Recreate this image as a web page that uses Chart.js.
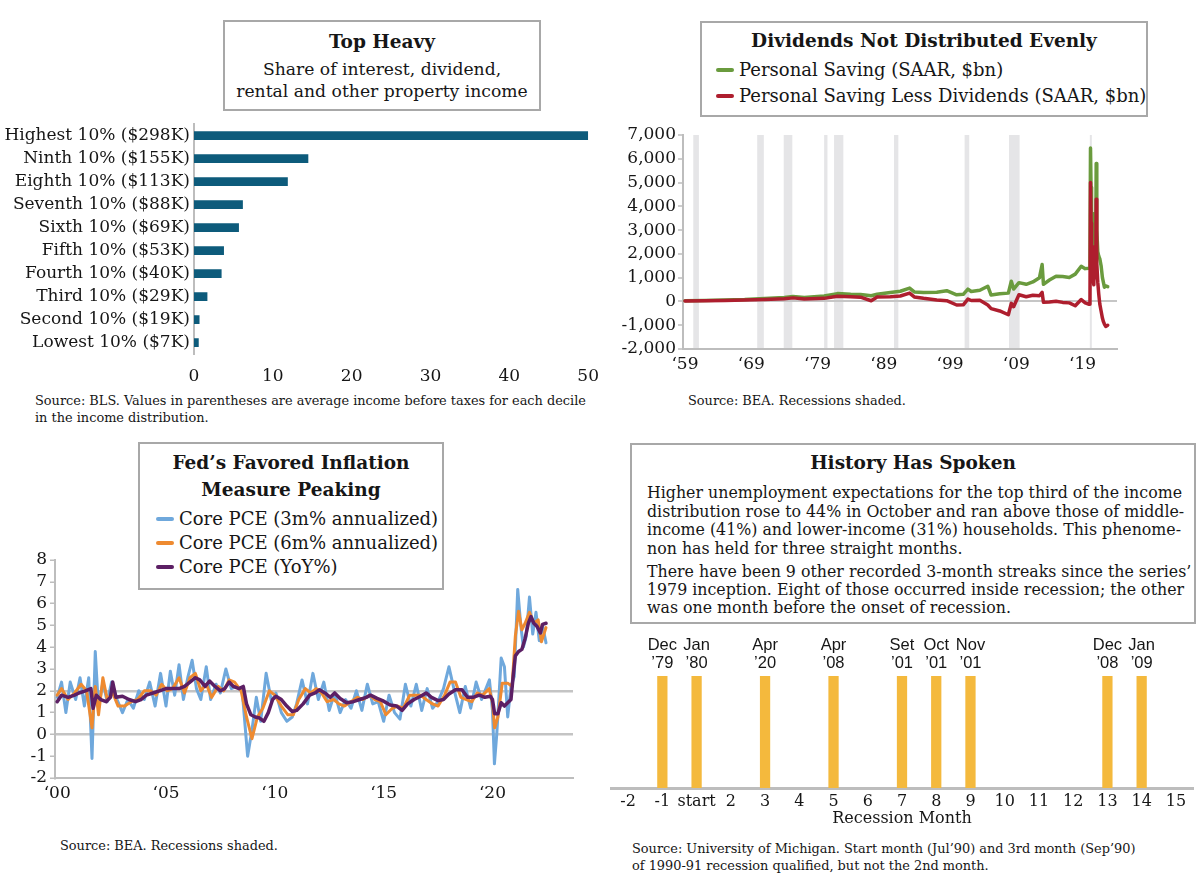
<!DOCTYPE html>
<html>
<head>
<meta charset="utf-8">
<title>Income, saving and inflation</title>
<script src="https://cdn.jsdelivr.net/npm/chart.js@4.4.1/dist/chart.umd.min.js"></script>
<style>
  html, body { margin: 0; padding: 0; }
  body { width: 1200px; height: 885px; position: relative; overflow: hidden; background: #fff; color: #161616; font-family: "DejaVu Serif", serif; }
  canvas { position: absolute; }
  .box { position: absolute; box-sizing: border-box; border: 2px solid #a8a8a8; background: #fff; }
  .box div { position: absolute; white-space: nowrap; }
  .ttl { left: 0; right: 0; text-align: center; font-weight: bold; font-size: 18.5px; line-height: 22px; }
  .sub { left: 0; right: 0; text-align: center; font-size: 17.2px; line-height: 22px; }
  .leg { font-size: 18px; line-height: 22px; }
  .leg i { display: inline-block; width: 18px; height: 4px; border-radius: 2px; vertical-align: middle; margin: 0 5px 3px 0; }
  .para { left: 15px; font-size: 15.8px; line-height: 19px; }
  .src { position: absolute; font-size: 12.9px; line-height: 17px; white-space: nowrap; }
</style>
</head>
<body>

<canvas id="decileChart" width="611" height="280" style="left:0;top:110px"></canvas>
<canvas id="savingChart" width="580" height="265" style="left:620px;top:120px"></canvas>
<canvas id="pceChart" width="600" height="270" style="left:0;top:545px"></canvas>
<canvas id="streakChart" width="600" height="210" style="left:600px;top:625px"></canvas>

<div class="box" style="left:223px;top:20px;width:318px;height:91px">
  <div class="ttl" style="top:9px">Top Heavy</div>
  <div class="sub" style="top:36px">Share of interest, dividend,</div>
  <div class="sub" style="top:58px">rental and other property income</div>
</div>

<div class="box" style="left:700px;top:21px;width:448px;height:96px">
  <div class="ttl" style="top:7px">Dividends Not Distributed Evenly</div>
  <div class="leg" style="top:36px;left:14px"><i style="background:#6a9b3e"></i>Personal Saving (SAAR, $bn)</div>
  <div class="leg" style="top:62px;left:14px"><i style="background:#ae1e2e"></i>Personal Saving Less Dividends (SAAR, $bn)</div>
</div>

<div class="box" style="left:138px;top:442px;width:306px;height:148px">
  <div class="ttl" style="top:8px">Fed’s Favored Inflation</div>
  <div class="ttl" style="top:35px">Measure Peaking</div>
  <div class="leg" style="top:64px;left:16px"><i style="background:#6fa8dc"></i>Core PCE (3m% annualized)</div>
  <div class="leg" style="top:88px;left:16px"><i style="background:#ee8a30"></i>Core PCE (6m% annualized)</div>
  <div class="leg" style="top:112px;left:16px"><i style="background:#5c1f64"></i>Core PCE (YoY%)</div>
</div>

<div class="box" style="left:630px;top:443px;width:566px;height:181px">
  <div class="ttl" style="top:7px">History Has Spoken</div>
  <div class="para" style="top:37.5px">Higher unemployment expectations for the top third of the income</div>
  <div class="para" style="top:56.5px">distribution rose to 44% in October and ran above those of middle-</div>
  <div class="para" style="top:74.5px">income (41%) and lower-income (31%) households. This phenome-</div>
  <div class="para" style="top:93.5px">non has held for three straight months.</div>
  <div class="para" style="top:116.5px">There have been 9 other recorded 3-month streaks since the series’</div>
  <div class="para" style="top:134.5px">1979 inception. Eight of those occurred inside recession; the other</div>
  <div class="para" style="top:152.5px">was one month before the onset of recession.</div>
</div>

<div class="src" style="left:35px;top:391.5px">Source: BLS. Values in parentheses are average income before taxes for each decile<br>in the income distribution.</div>
<div class="src" style="left:688px;top:391.5px">Source: BEA. Recessions shaded.</div>
<div class="src" style="left:60px;top:836.5px">Source: BEA. Recessions shaded.</div>
<div class="src" style="left:632px;top:839.5px">Source: University of Michigan. Start month (Jul’90) and 3rd month (Sep’90)<br>of 1990-91 recession qualified, but not the 2nd month.</div>

<script>
// ---------- Top Heavy ----------
const decileLabels = ['Highest 10% ($298K)', 'Ninth 10% ($155K)', 'Eighth 10% ($113K)', 'Seventh 10% ($88K)',
  'Sixth 10% ($69K)', 'Fifth 10% ($53K)', 'Fourth 10% ($40K)', 'Third 10% ($29K)', 'Second 10% ($19K)', 'Lowest 10% ($7K)'];
const propertyIncomeShare = [50, 14.5, 11.9, 6.2, 5.7, 3.8, 3.5, 1.7, 0.7, 0.6];
const shareTicks = [0, 10, 20, 30, 40, 50];

// ---------- Dividends Not Distributed Evenly ----------
const savingDates = [1959, 1962, 1965, 1968, 1971, 1974, 1975.3, 1977, 1980, 1982,
  1984, 1985.5, 1987.1, 1988, 1990, 1991.5, 1992.9, 1993.6, 1995, 1997,
  1998.5, 2000, 2001, 2001.7, 2002.2, 2003.5, 2004.7, 2005.2, 2006.5, 2007.8,
  2008.25, 2008.6, 2009.4, 2010.5, 2011.5, 2012.5, 2012.9, 2013.1, 2014, 2015,
  2016, 2017, 2017.9, 2018.8, 2019.4,
  2020.0, 2020.12, 2020.2, 2020.28, 2020.36, 2020.45, 2020.6, 2020.7, 2020.8, 2020.9,
  2021.0, 2021.06, 2021.15, 2021.3, 2021.45, 2021.6, 2021.8,
  2022.0, 2022.15, 2022.3, 2022.5, 2022.8];
const personalSaving = [30, 40, 60, 80, 120, 170, 210, 170, 230, 330,
  300, 290, 240, 300, 380, 430, 560, 400, 380, 390,
  450, 280, 300, 520, 420, 470, 640, 270, 320, 350,
  850, 520, 790, 720, 820, 1000, 1550, 720, 900, 1060,
  1050, 1010, 1150, 1480, 1380,
  1400, 1600, 6450, 4800, 3500, 2400, 2200, 2000, 3700, 2300,
  2600, 5800, 3000, 2100, 1900, 1800, 1500,
  1000, 800, 600, 650, 620];
const savingLessDividends = [20, 30, 40, 60, 80, 110, 150, 100, 130, 220,
  200, 180, 30, 190, 200, 230, 350, 190, 130, 60,
  30, -150, -140, 100, 40, 50, -150, -300, -400, -560,
  -80, -220, 280, 200, 260, 240, 380, -30, -20, 10,
  -40, -60, -180, 80, -60,
  -120, 100, 5000, 3300, 2100, 1200, 900, 700, 2300, 1000,
  1100, 4300, 1600, 800, 300, -100, -400,
  -700, -850, -950, -1050, -1000];
const savingTickYears = [1959, 1969, 1979, 1989, 1999, 2009, 2019];
const recessionStarts = [1960.25, 1969.9, 1973.9, 1980.0, 1981.5, 1990.55, 2001.2, 2007.9, 2020.1];
const recessionEnds = [1961.1, 1970.9, 1975.2, 1980.5, 1982.9, 1991.2, 2001.9, 2009.5, 2020.3];

// ---------- Fed's Favored Inflation Measure ----------
const pce3mDates = [2000.0, 2000.2, 2000.4, 2000.6, 2000.85, 2001.05, 2001.25, 2001.45, 2001.6, 2001.75, 2001.9,
  2002.1, 2002.3, 2002.5, 2002.75, 2003.0, 2003.25, 2003.5, 2003.75, 2004.0, 2004.25, 2004.5, 2004.75,
  2005.0, 2005.2, 2005.4, 2005.6, 2005.8, 2006.0, 2006.2, 2006.4, 2006.6, 2006.85, 2007.05, 2007.3, 2007.5, 2007.75,
  2008.0, 2008.25, 2008.5, 2008.75, 2008.95, 2009.15, 2009.35, 2009.6, 2009.85, 2010.05, 2010.3, 2010.55, 2010.8,
  2011.0, 2011.25, 2011.5, 2011.75, 2012.0, 2012.25, 2012.5, 2012.75, 2013.0, 2013.25, 2013.5, 2013.75,
  2014.0, 2014.25, 2014.5, 2014.75, 2015.0, 2015.25, 2015.5, 2015.75, 2016.0, 2016.25, 2016.5, 2016.75,
  2017.0, 2017.25, 2017.5, 2017.75, 2018.0, 2018.25, 2018.5, 2018.75, 2019.0, 2019.25, 2019.5,
  2019.86, 2020.0, 2020.09, 2020.2, 2020.4, 2020.55, 2020.7, 2020.85, 2021.0, 2021.16, 2021.3, 2021.42,
  2021.55, 2021.7, 2021.85, 2022.0, 2022.15, 2022.3, 2022.46];
const pce3m = [1.7, 2.4, 1.0, 2.4, 1.6, 2.6, 1.3, 2.6, -1.1, 3.8, 1.2,
  2.4, 1.5, 2.4, 1.6, 1.0, 1.6, 1.2, 2.0, 1.6, 2.4, 1.3, 2.8,
  1.3, 2.9, 1.8, 3.2, 1.6, 2.6, 3.4, 2.1, 1.6, 3.1, 1.6, 2.3, 1.9, 3.0,
  2.1, 2.2, 2.0, -1.0, 0.2, 1.7, 0.6, 2.8, 1.5, 1.9, 1.0, 0.6, 0.8,
  1.4, 2.5, 1.4, 2.8, 1.6, 2.4, 1.1, 1.9, 1.0, 1.6, 1.2, 2.0,
  1.1, 2.3, 1.4, 1.5, 0.6, 1.8, 1.0, 0.7, 2.3, 1.3, 2.3, 1.1,
  2.1, 1.2, 1.5, 2.1, 3.1, 2.0, 1.0, 2.2, 1.2, 2.4, 1.6,
  2.5, 1.1, -1.35, 0.05, 3.5, 3.1, 0.8, 2.2, 2.65, 6.65, 5.0, 4.0,
  4.5, 6.3, 4.6, 5.6, 4.3, 5.0, 4.2];
const pce6mDates = [2000.0, 2000.2, 2000.5, 2000.8, 2001.1, 2001.35, 2001.6, 2001.75, 2001.9,
  2002.1, 2002.3, 2002.55, 2002.8, 2003.1, 2003.4, 2003.7, 2004.0, 2004.3, 2004.55, 2004.8,
  2005.05, 2005.3, 2005.6, 2005.85, 2006.1, 2006.35, 2006.6, 2006.85, 2007.1, 2007.4, 2007.65, 2007.9,
  2008.15, 2008.45, 2008.7, 2008.95, 2009.2, 2009.45, 2009.75, 2010.0, 2010.3, 2010.6, 2010.85,
  2011.1, 2011.4, 2011.65, 2011.9, 2012.15, 2012.4, 2012.7, 2012.95, 2013.2, 2013.5, 2013.8,
  2014.05, 2014.35, 2014.6, 2014.85, 2015.1, 2015.4, 2015.65, 2015.9, 2016.2, 2016.45, 2016.7, 2016.95,
  2017.25, 2017.5, 2017.8, 2018.05, 2018.3, 2018.55, 2018.8, 2019.05, 2019.3, 2019.55,
  2019.85, 2020.0, 2020.1, 2020.25, 2020.45, 2020.7, 2020.9, 2021.05, 2021.2, 2021.35, 2021.5,
  2021.7, 2021.9, 2022.1, 2022.25, 2022.46];
const pce6m = [1.8, 2.1, 1.6, 1.9, 2.3, 2.0, 0.3, 2.2, 0.9,
  2.6, 1.6, 1.9, 1.3, 1.3, 1.5, 1.6, 2.0, 2.0, 1.8, 2.3,
  2.0, 2.1, 2.6, 1.9, 2.6, 2.8, 2.0, 2.3, 1.7, 2.2, 2.0, 2.5,
  2.4, 2.0, 0.8, -0.2, 0.8, 1.2, 2.0, 1.8, 1.3, 0.9, 0.9,
  1.6, 2.1, 1.9, 2.1, 1.9, 1.5, 1.6, 1.4, 1.3, 1.5, 1.7,
  1.6, 1.8, 1.6, 1.5, 0.9, 1.2, 1.3, 1.2, 1.8, 1.8, 1.8, 1.6,
  1.4, 1.3, 1.8, 2.4, 2.4, 1.7, 1.6, 1.5, 1.9, 1.8,
  2.1, 1.45, 0.3, 0.8, 2.35, 2.35, 2.2, 4.5, 5.65, 4.8, 5.1,
  5.6, 5.1, 5.25, 4.25, 4.9];
const pceYoyDates = [2000.0, 2000.2, 2000.5, 2000.8, 2001.0, 2001.3, 2001.55, 2001.65, 2001.8,
  2002.0, 2002.25, 2002.45, 2002.55, 2002.7, 2003.0, 2003.3, 2003.6, 2003.85,
  2004.1, 2004.4, 2004.7, 2005.0, 2005.3, 2005.6, 2005.85, 2006.1, 2006.35, 2006.55, 2006.8,
  2007.0, 2007.25, 2007.5, 2007.7, 2007.9, 2008.1, 2008.35, 2008.55, 2008.7, 2008.9,
  2009.1, 2009.3, 2009.5, 2009.7, 2009.9, 2010.05, 2010.3, 2010.55, 2010.8,
  2011.0, 2011.3, 2011.6, 2011.85, 2012.05, 2012.3, 2012.55, 2012.75, 2013.0, 2013.3, 2013.6, 2013.9,
  2014.2, 2014.4, 2014.7, 2014.95, 2015.3, 2015.6, 2015.85, 2016.1, 2016.4, 2016.7, 2016.95,
  2017.2, 2017.5, 2017.75, 2018.0, 2018.3, 2018.6, 2018.85, 2019.1, 2019.4, 2019.65,
  2019.9, 2020.0, 2020.1, 2020.25, 2020.4, 2020.55, 2020.7, 2020.85, 2020.95, 2021.05, 2021.2,
  2021.35, 2021.5, 2021.65, 2021.77, 2021.9, 2022.05, 2022.2, 2022.3, 2022.46];
const pceYoy = [1.5, 1.8, 1.7, 1.8, 1.9, 2.0, 2.1, 1.2, 1.8,
  1.6, 1.5, 1.7, 2.4, 1.7, 1.75, 1.6, 1.5, 1.6,
  1.8, 1.9, 2.0, 2.1, 2.1, 2.1, 2.2, 2.4, 2.6, 2.5, 2.2,
  2.45, 2.2, 2.0, 2.1, 2.4, 2.2, 2.1, 2.2, 1.4, 0.9,
  0.8, 0.75, 0.6, 1.0, 1.6, 1.75, 1.6, 1.3, 1.05,
  1.1, 1.4, 1.8, 1.9, 2.05, 1.9, 1.7, 1.9, 1.65, 1.45, 1.5, 1.6,
  1.7, 1.8, 1.65, 1.55, 1.35, 1.3, 1.1, 1.4, 1.6, 1.75, 1.9,
  1.7, 1.55, 1.6, 1.85, 2.05, 2.05, 1.7, 1.7, 1.8, 1.7,
  1.75, 1.6, 0.95, 0.95, 1.45, 1.3, 1.45, 1.6, 2.65, 3.6, 3.8,
  3.9, 4.4, 5.1, 5.4, 5.1, 4.95, 4.65, 5.05, 5.1];
const pceTickYears = [2000, 2005, 2010, 2015, 2020];

// ---------- History Has Spoken ----------
const recessionMonths = ['-2', '-1', 'start', '2', '3', '4', '5', '6', '7', '8', '9', '10', '11', '12', '13', '14', '15'];
const streakCount = [null, 1, 1, null, 1, null, 1, null, 1, 1, 1, null, null, null, 1, 1, null];
const streakLabels = [null, ['Dec', '’79'], ['Jan', '’80'], null, ['Apr', '’20'], null, ['Apr', '’08'], null,
  ['Set', '’01'], ['Oct', '’01'], ['Nov', '’01'], null, null, null, ['Dec', '’08'], ['Jan', '’09'], null];

// ---------- shared bits ----------
const serif = size => ({ family: "'DejaVu Serif'", size: size });
const ink = '#161616';
const axisGrey = '#bdbdbd';
const toPoints = (xs, ys) => xs.map((x, i) => ({ x: x, y: ys[i] }));
const shortYear = v => '‘' + String(v).slice(2);
const lineStyle = { pointRadius: 0, borderWidth: 3, tension: 0, borderJoinStyle: 'round', borderCapStyle: 'round' };

// grey recession bands behind the saving lines
const recessionShade = {
  id: 'recessionShade',
  beforeDraw(chart) {
    const { ctx, chartArea, scales } = chart;
    ctx.save();
    ctx.fillStyle = '#e5e5e7';
    recessionStarts.forEach((start, i) => {
      const x0 = scales.x.getPixelForValue(start);
      const x1 = scales.x.getPixelForValue(recessionEnds[i]);
      ctx.fillRect(x0, chartArea.top, Math.max(x1 - x0, 2), chartArea.bottom - chartArea.top);
    });
    ctx.restore();
  }
};

// month labels over the streak bars
const streakText = {
  id: 'streakText',
  afterDatasetsDraw(chart) {
    const ctx = chart.ctx;
    ctx.save();
    ctx.fillStyle = ink;
    ctx.font = "16.5px 'Liberation Sans'";
    ctx.textAlign = 'center';
    ctx.textBaseline = 'middle';
    chart.getDatasetMeta(0).data.forEach((bar, i) => {
      const lbl = streakLabels[i];
      if (!lbl) return;
      ctx.fillText(lbl[0], bar.x, bar.y - 31);
      ctx.fillText(lbl[1], bar.x, bar.y - 13);
    });
    ctx.restore();
  }
};

// 1. Top Heavy bars
new Chart(document.getElementById('decileChart'), {
  type: 'bar',
  data: {
    labels: decileLabels,
    datasets: [{ data: propertyIncomeShare, backgroundColor: '#0d5b7b', barPercentage: 0.38, categoryPercentage: 1 }]
  },
  options: {
    indexAxis: 'y',
    responsive: false,
    animation: false,
    layout: { padding: { top: 9, right: 2 } },
    plugins: { legend: { display: false }, tooltip: { enabled: false } },
    scales: {
      x: {
        min: 0, max: 50,
        afterBuildTicks: s => { s.ticks = shareTicks.map(v => ({ value: v })); },
        grid: { display: false, drawTicks: false },
        border: { display: false },
        ticks: { font: serif(17), color: ink, padding: 12 },
        afterFit: s => { s.height = 36; }
      },
      y: {
        grid: { display: false, drawTicks: false },
        border: { color: axisGrey, width: 2 },
        ticks: { font: serif(17), color: ink, padding: 4, autoSkip: false },
        afterFit: s => { s.width = 194; }
      }
    }
  }
});

// 2. Personal saving lines
new Chart(document.getElementById('savingChart'), {
  type: 'line',
  data: {
    datasets: [
      Object.assign({ label: 'Personal Saving Less Dividends (SAAR, $bn)', data: toPoints(savingDates, savingLessDividends), borderColor: '#ae1e2e', order: 1 }, lineStyle, { borderWidth: 3.5 }),
      Object.assign({ label: 'Personal Saving (SAAR, $bn)', data: toPoints(savingDates, personalSaving), borderColor: '#6a9b3e', order: 2 }, lineStyle, { borderWidth: 3.5 })
    ]
  },
  options: {
    responsive: false,
    animation: false,
    layout: { padding: { top: 15, right: 83 } },
    plugins: { legend: { display: false }, tooltip: { enabled: false } },
    scales: {
      x: {
        type: 'linear', min: 1958.7, max: 2024.2,
        afterBuildTicks: s => { s.ticks = savingTickYears.map(v => ({ value: v })); },
        grid: { display: false, drawTicks: false },
        border: { color: axisGrey, width: 2 },
        ticks: { callback: shortYear, font: serif(17), color: ink, padding: 5, maxRotation: 0, autoSkip: false },
        afterFit: s => { s.height = 36; }
      },
      y: {
        min: -2000, max: 7000,
        ticks: { stepSize: 1000, autoSkip: false, callback: v => v.toLocaleString('en-US'), font: serif(17), color: ink, padding: 2 },
        grid: { color: c => c.tick && c.tick.value === 0 ? '#c6c6c6' : 'rgba(0,0,0,0)', lineWidth: 2, tickLength: 5, tickColor: axisGrey, tickWidth: 1.5 },
        border: { color: axisGrey, width: 2 },
        afterFit: s => { s.width = 63; }
      }
    }
  },
  plugins: [recessionShade]
});

// 3. Core PCE lines
new Chart(document.getElementById('pceChart'), {
  type: 'line',
  data: {
    datasets: [
      Object.assign({ label: 'Core PCE (YoY%)', data: toPoints(pceYoyDates, pceYoy), borderColor: '#5c1f64', order: 1 }, lineStyle, { borderWidth: 3.5 }),
      Object.assign({ label: 'Core PCE (6m% annualized)', data: toPoints(pce6mDates, pce6m), borderColor: '#ee8a30', order: 2 }, lineStyle),
      Object.assign({ label: 'Core PCE (3m% annualized)', data: toPoints(pce3mDates, pce3m), borderColor: '#6fa8dc', order: 3 }, lineStyle)
    ]
  },
  options: {
    responsive: false,
    animation: false,
    layout: { padding: { top: 15, right: 27 } },
    plugins: { legend: { display: false }, tooltip: { enabled: false } },
    scales: {
      x: {
        type: 'linear', min: 1999.9, max: 2023.7,
        afterBuildTicks: s => { s.ticks = pceTickYears.map(v => ({ value: v })); },
        grid: { display: false, drawTicks: false },
        border: { color: axisGrey, width: 2 },
        ticks: { callback: shortYear, font: serif(17), color: ink, padding: 5, maxRotation: 0, autoSkip: false },
        afterFit: s => { s.height = 37; }
      },
      y: {
        min: -2, max: 8,
        ticks: { stepSize: 1, autoSkip: false, font: serif(17), color: ink, padding: 3 },
        grid: { color: c => c.tick && (c.tick.value === 0 || c.tick.value === 2) ? '#c4c4c4' : 'rgba(0,0,0,0)', lineWidth: 2.5, tickLength: 5, tickColor: axisGrey, tickWidth: 1.5 },
        border: { color: axisGrey, width: 2 },
        afterFit: s => { s.width = 55; }
      }
    }
  }
});

// 4. Recession-month streak bars
new Chart(document.getElementById('streakChart'), {
  type: 'bar',
  data: {
    labels: recessionMonths,
    datasets: [{ data: streakCount, backgroundColor: '#f4b93d', barPercentage: 0.3, categoryPercentage: 1 }]
  },
  options: {
    responsive: false,
    animation: false,
    layout: { padding: { top: 51, left: 11, right: 7, bottom: 7 } },
    plugins: { legend: { display: false }, tooltip: { enabled: false } },
    scales: {
      x: {
        grid: { display: false, drawTicks: false },
        border: { color: axisGrey, width: 3 },
        ticks: { font: serif(16), color: ink, padding: 4, autoSkip: false, maxRotation: 0 },
        title: { display: true, text: 'Recession Month', font: serif(16), color: ink, padding: { top: 0, bottom: 0 } },
        afterFit: s => { s.height = 40; }
      },
      y: { display: false, min: 0, max: 1 }
    }
  },
  plugins: [streakText]
});
</script>
</body>
</html>
